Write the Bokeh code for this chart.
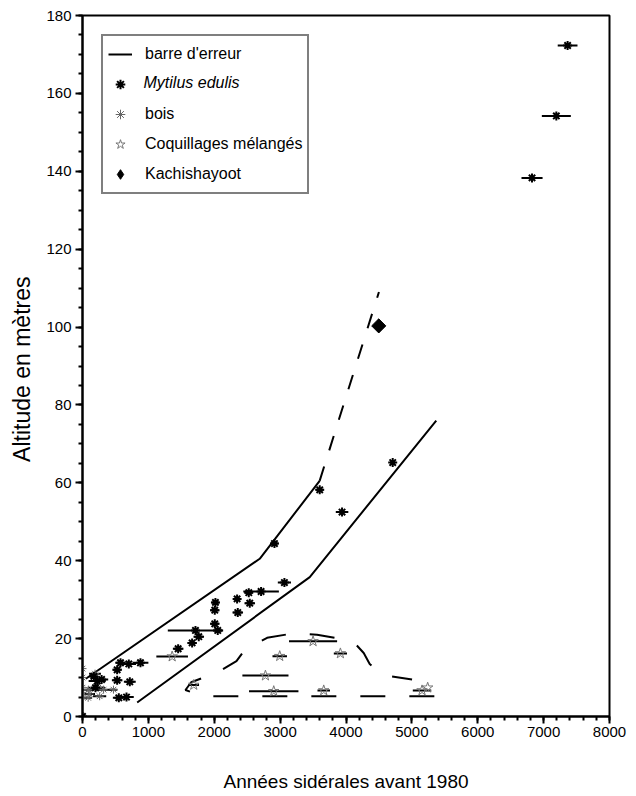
from bokeh.plotting import figure
from bokeh.models import Range1d, SingleIntervalTicker, Legend, LegendItem
from bokeh.core.properties import value
from bokeh.embed import file_html
from bokeh.resources import INLINE
import numpy as np

FONT = "Liberation Sans"

# Mytilus edulis (x = years, y = altitude, err = half-width of horizontal error bar)
myt_x = [7364, 7193, 6824, 4709, 3601, 3940, 2914, 3065, 2524, 2711, 2347, 2539, 2357,
         2018, 2008, 2008, 2053, 1715, 1765, 1664, 1452, 880, 703, 577, 526, 526, 718,
         551, 668, 223, 197, 290, 172, 0]
myt_y = [172.3, 154.2, 138.3, 65.2, 58.2, 52.5, 44.4, 34.4, 31.8, 32.1, 30.2, 29.1, 26.7,
         29.3, 27.3, 23.8, 22.1, 22.1, 20.5, 18.9, 17.4, 13.8, 13.5, 13.8, 12.0, 9.3, 8.9,
         4.8, 5.0, 9.1, 7.4, 9.5, 10.3, 0]
myt_err = [150, 220, 160, 30, 60, 95, 60, 100, 60, 270, 60, 80, 80,
           60, 70, 70, 70, 420, 80, 70, 80, 120, 110, 80, 70, 80, 90,
           90, 110, 130, 120, 100, 60, 0]

# bois
bois_x = [0, 0, 0, 0, 0, 90, 110, 240, 260, 320, 470, 86, 190]
bois_y = [12.3, 10.0, 7.4, 6.2, 5.0, 6.9, 5.8, 7.4, 5.2, 6.9, 6.9, 4.8, 11.0]
bois_err = [0, 0, 0, 0, 0, 80, 80, 100, 100, 120, 60, 60, 90]

# Coquillages mélangés
coq_x = [1361, 1689, 2777, 2903, 2994, 3500, 3662, 3915, 5154, 5240]
coq_y = [15.4, 8.1, 10.5, 6.5, 15.5, 19.3, 6.7, 16.2, 6.7, 7.4]
coq_err = [240, 80, 350, 375, 110, 365, 95, 100, 140, 0]

# Kachishayoot
kach_x = [4497]
kach_y = [100.3]

# envelope lines
upper_x = [50, 2690, 3600]
upper_y = [9.7, 40.5, 60.5]
lower_x = [830, 3450, 5370]
lower_y = [3.6, 35.8, 76.0]
ext_x = [3600, 4500]
ext_y = [60.5, 109.0]
bell_x = [5341, 1917, 1750, 1563, 1650, 1917, 2018, 2337, 2458, 2802, 3182, 3561,
          3941, 4150, 4269, 4360, 4500, 4623, 5003]
bell_y = [5.2, 5.2, 5.7, 6.8, 8.8, 10.5, 11.0, 14.2, 17.0, 20.2, 21.3, 21.0,
          19.9, 18.5, 16.3, 13.5, 11.3, 10.5, 9.5]

# legend labels
leg_labels = ["barre d'erreur", "Mytilus edulis", "bois", "Coquillages mélangés", "Kachishayoot"]

p = figure(width=628, height=794, output_backend="svg", toolbar_location=None,
           x_range=Range1d(0, 8000), y_range=Range1d(0, 180),
           min_border_left=82, min_border_right=19, min_border_top=15, min_border_bottom=77)
p.grid.visible = False
p.outline_line_color = "black"
p.outline_line_width = 2
p.background_fill_color = "white"
p.border_fill_color = "white"

p.xaxis.ticker = SingleIntervalTicker(interval=1000, num_minor_ticks=5)
p.yaxis.ticker = SingleIntervalTicker(interval=20, num_minor_ticks=4)
p.xaxis.axis_label = "Années sidérales avant 1980"
p.yaxis.axis_label = "Altitude  en mètres"
for ax in (p.xaxis[0], p.yaxis[0]):
    ax.axis_line_width = 2
    ax.axis_line_color = "black"
    ax.major_tick_in = 0
    ax.major_tick_out = 7
    ax.minor_tick_in = 0
    ax.minor_tick_out = 4
    ax.major_tick_line_width = 2
    ax.minor_tick_line_width = 2
    ax.major_tick_line_color = "black"
    ax.minor_tick_line_color = "black"
    ax.major_label_text_font = FONT
    ax.major_label_text_font_size = "15px"
    ax.major_label_text_color = "black"
    ax.axis_label_text_font = FONT
    ax.axis_label_text_font_style = "normal"
    ax.axis_label_text_color = "black"
p.xaxis.axis_label_text_font_size = "19px"
p.yaxis.axis_label_text_font_size = "23px"
p.xaxis.major_label_standoff = 3
p.xaxis.axis_label_standoff = 31
p.yaxis.major_label_standoff = 4
p.yaxis.axis_label_standoff = 8

# envelopes
r_upper = p.line(upper_x, upper_y, line_color="black", line_width=2)
p.line(lower_x, lower_y, line_color="black", line_width=2)
p.line(ext_x, ext_y, line_color="black", line_width=2, line_dash="15 17")
p.line(bell_x, bell_y, line_color="black", line_width=2, line_dash="25 24")

# error bars
def bars(xs, ys, es):
    xs = np.array(xs, dtype=float)
    es = np.array(es, dtype=float)
    p.segment(x0=xs - es, y0=ys, x1=xs + es, y1=ys, line_color="black", line_width=2)

bars(myt_x, myt_y, myt_err)
bars(bois_x, bois_y, bois_err)
bars(coq_x, coq_y, coq_err)

r_coq = p.scatter(coq_x, coq_y, marker="star", size=11, fill_color=None,
                  line_color="#777777", line_width=1)
r_bois = p.scatter(bois_x, bois_y, marker="asterisk", size=8, line_color="#666666",
                   line_width=1)
r_myt = p.scatter(myt_x, myt_y, marker="asterisk", size=9, line_color="black",
                  line_width=2)
# diamond used for the legend (hidden under the rotated square in the plot)
r_kach_leg = p.scatter(kach_x, kach_y, marker="diamond", size=13, fill_color="black",
                       line_color="black")
p.scatter(kach_x, kach_y, marker="square", angle=np.pi / 4, size=10,
          fill_color="black", line_color="black")

legend = Legend(items=[
    LegendItem(label=leg_labels[0], renderers=[r_upper]),
    LegendItem(label=" ", renderers=[r_myt]),
    LegendItem(label=leg_labels[2], renderers=[r_bois]),
    LegendItem(label=leg_labels[3], renderers=[r_coq]),
    LegendItem(label=leg_labels[4], renderers=[r_kach_leg]),
], location="top_left")
legend.margin = 19
legend.padding = 5
legend.spacing = 4
legend.glyph_width = 24
legend.glyph_height = 26
legend.label_height = 26
legend.label_standoff = 13
legend.label_text_font = FONT
legend.label_text_font_size = "16px"
legend.label_text_color = "black"
legend.border_line_color = "black"
legend.border_line_width = 2
legend.background_fill_alpha = 0.0
p.add_layout(legend)

# italic species name inside the legend row
p.text(x=[926], y=[162.8], text=[leg_labels[1]], text_font=value(FONT),
       text_font_size="16px", text_font_style="italic", text_baseline="middle",
       text_align="left", text_color="black")

open("out.html", "w").write(file_html(p, INLINE))
